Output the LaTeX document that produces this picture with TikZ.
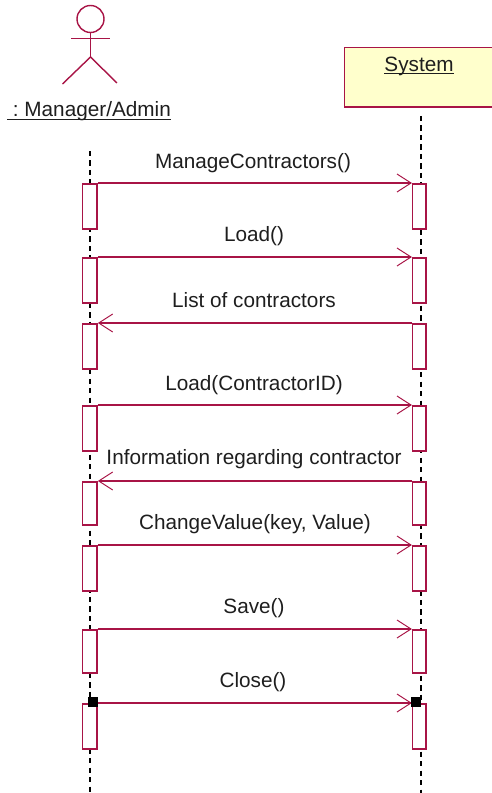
\documentclass[tikz,border=0pt]{standalone}
\usepackage{fontspec}
\setmainfont{Liberation Sans}
\usetikzlibrary{arrows.meta,positioning}
\definecolor{umlrose}{RGB}{168,20,70}
\definecolor{umlyellow}{RGB}{255,255,204}
\definecolor{umltext}{RGB}{30,30,30}
\newlength{\umlwd}
\newcommand{\umlunder}[1]{\settowidth{\umlwd}{#1}\rlap{\rule[-1.7pt]{\umlwd}{0.65pt}}#1}
\tikzset{
  activation/.style={rectangle, draw=umlrose, fill=white, line width=0.9pt, anchor=north, inner sep=0pt, minimum width=0.29cm},
  sysactivation/.style={activation, minimum width=0.265cm},
  message/.style={-{Straight Barb[length=0.28cm, width=0.36cm, line width=0.55pt]}, draw=umlrose, line width=1pt},
  msglabel/.style={font=\fontsize{11.8}{14}\selectfont, text=umltext, inner sep=0pt, anchor=base},
  lifeline/.style={draw=black, line width=0.9pt, dash pattern=on 3pt off 2.4pt},
  stub/.style={rectangle, fill=black, inner sep=0pt, minimum size=0.19cm},
  figure/.style={draw=umlrose, line width=0.8pt},
}

\begin{document}
\begin{tikzpicture}[x=0.02cm, y=-0.02cm]
\useasboundingbox (0,0) rectangle (492,793);

% Lifelines
\coordinate (mgrtop) at (90,151);
\coordinate (mgrend) at (90,793);
\coordinate (systop) at (421,116);
\coordinate (sysend) at (421,793);
\draw[lifeline] (mgrtop) -- (mgrend);
\draw[lifeline] (systop) -- (sysend);

% Actor
\node[draw=umlrose, line width=0.8pt, circle, inner sep=0pt, minimum size=0.54cm] (head) at (90.5,19) {};
\coordinate (hip) at (90.5,57);
\coordinate (armL) at (71,38.5);
\coordinate (armR) at (110,38.5);
\coordinate (legL) at (62.5,84);
\coordinate (legR) at (117,83);
\draw[figure] (head.south) -- (hip);
\draw[figure] (armL) -- (armR);
\draw[figure] (legL) -- (hip) -- (legR);
\node[msglabel] (manager) at (89,117) {\umlunder{\ :\ Manager/Admin}};

% System box
\node[draw=umlrose, fill=umlyellow, line width=1pt, anchor=north west, minimum width=3.2cm, minimum height=1.19cm, inner sep=0pt] (system) at (343.5,46.7) {};
\node[msglabel] (systemname) at (419,71.5) {\umlunder{System}};

% Activations on the manager side
\node[activation, minimum height=0.9cm] (m1) at (89.8,183) {};
\node[activation, minimum height=0.9cm] (m2) at (89.8,257) {};
\node[activation, minimum height=0.9cm] (m3) at (89.8,323) {};
\node[activation, minimum height=0.9cm] (m4) at (89.8,405) {};
\node[activation, minimum height=0.86cm] (m5) at (89.8,481) {};
\node[activation, minimum height=0.9cm] (m6) at (89.8,545) {};
\node[activation, minimum height=0.86cm] (m7) at (89.8,629) {};
\node[activation, minimum height=0.9cm] (m8) at (89.8,703) {};

% Activations on the system side
\node[sysactivation, minimum height=0.9cm] (s1) at (419.3,183) {};
\node[sysactivation, minimum height=0.9cm] (s2) at (419.3,257) {};
\node[sysactivation, minimum height=0.9cm] (s3) at (419.3,323) {};
\node[sysactivation, minimum height=0.9cm] (s4) at (419.3,405) {};
\node[sysactivation, minimum height=0.86cm] (s5) at (419.3,481) {};
\node[sysactivation, minimum height=0.9cm] (s6) at (419.3,545) {};
\node[sysactivation, minimum height=0.86cm] (s7) at (419.3,629) {};
\node[sysactivation, minimum height=0.9cm] (s8) at (419.3,703) {};

% Messages
\draw[message] (m1.north east) -- (s1.north west);
\draw[message] (m2.north east) -- (s2.north west);
\draw[message] (s3.north west) -- (m3.north east);
\draw[message] (m4.north east) -- (s4.north west);
\draw[message] (s5.north west) -- (m5.north east);
\draw[message] (m6.north east) -- (s6.north west);
\draw[message] (m7.north east) -- (s7.north west);
\draw[message] (m8.north east) -- (s8.north west);

% Message labels
\node[msglabel] (l1) at (253,168.5) {ManageContractors()};
\node[msglabel] (l2) at (254,241.5) {Load()};
\node[msglabel] (l3) at (254,307.5) {List of contractors};
\node[msglabel] (l4) at (254,390.5) {Load(ContractorID)};
\node[msglabel] (l5) at (254,464) {Information regarding contractor};
\node[msglabel] (l6) at (255,529.5) {ChangeValue(key, Value)};
\node[msglabel] (l7) at (254,613.5) {Save()};
\node[msglabel] (l8) at (253,687.5) {Close()};

% Stubs on the last message
\node[stub] (stubL) at (93,702) {};
\node[stub] (stubR) at (416,702) {};

\end{tikzpicture}
\end{document}
